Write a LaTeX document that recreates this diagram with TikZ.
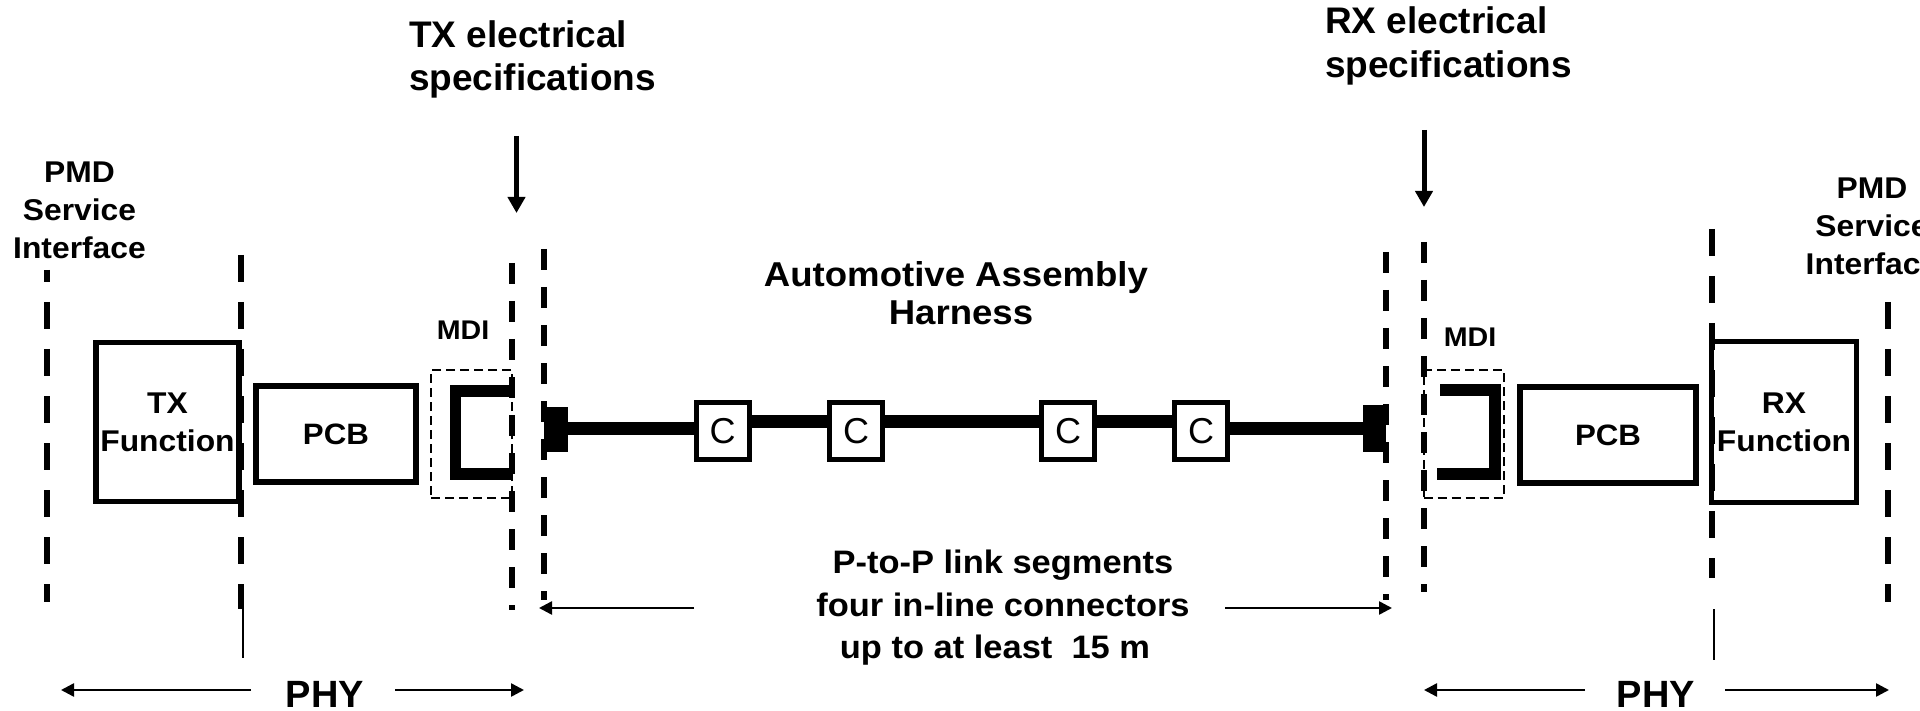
\documentclass[tikz,border=0pt]{standalone}
\usepackage{fontspec}
\setmainfont{Liberation Sans}
\newfontfamily\widesans[FakeStretch=1.06]{Liberation Sans}
\usetikzlibrary{arrows.meta}

\begin{document}
\begin{tikzpicture}[x=1pt,y=-1pt,
  guideA/.style={line width=6.5pt, dash pattern=on 27pt off 20pt},
  guideB/.style={line width=6pt, dash pattern=on 21pt off 17pt},
  thinline/.style={line width=2pt},
  block/.style={draw, line width=5.5pt, inner sep=0pt, align=center,
    font=\widesans\bfseries\fontsize{30pt}{38pt}\selectfont},
  cbox/.style={draw, fill=white, line width=5pt, inner sep=0pt,
    minimum width=53pt, minimum height=57pt, font=\fontsize{36pt}{40pt}\selectfont},
  mdibox/.style={draw, line width=2pt, dash pattern=on 9pt off 5pt, inner sep=0pt},
  term/.style={fill, inner sep=0pt},
  cable/.style={line width=13pt},
  bracket/.style={line width=11.5pt},
  spectext/.style={anchor=base west, inner sep=0pt,
    font=\bfseries\fontsize{37pt}{44pt}\selectfont},
  lab/.style={anchor=base, inner sep=0pt,
    font=\widesans\bfseries\fontsize{30pt}{38pt}\selectfont},
  mdilab/.style={anchor=base, inner sep=0pt,
    font=\widesans\bfseries\fontsize{27pt}{30pt}\selectfont},
  bottomtext/.style={anchor=base, inner sep=0pt,
    font=\widesans\bfseries\fontsize{32.5pt}{40pt}\selectfont},
  phytext/.style={anchor=base, inner sep=0pt,
    font=\bfseries\fontsize{38pt}{40pt}\selectfont},
  specarrow/.style={line width=5pt, -{Triangle[length=16pt,width=17pt]}},
  dimarrow/.style={line width=2.5pt, -{Triangle[length=13pt,width=13pt]}}
]
\useasboundingbox (0,0) rectangle (1920,711);
\fill[white] (0,0) rectangle (1920,711);
\clip (0,0) rectangle (1920,711);

% ---------- reference planes ----------
\draw[guideA, dash phase=15pt] (47,270) -- (47,602);
\draw[guideA] (241,255) -- (241,609);
\draw[thinline] (243,609) -- (243,658);
\draw[guideB] (512,263) -- (512,610);
\draw[guideB] (544,249) -- (544,600);
\draw[guideB] (1386,252) -- (1386,600);
\draw[guideB] (1424,242) -- (1424,592);
\draw[guideA] (1712,229) -- (1712,578);
\draw[thinline] (1714,609) -- (1714,660);
\draw[guideA] (1888,302) -- (1888,602);

% ---------- transmitter side ----------
\node[block, minimum width=143pt, minimum height=159pt] (txf) at (167.5,422) {TX\\Function};
\node[block, minimum width=160pt, minimum height=96pt] (pcbL) at (336,434) {\fontsize{29.5pt}{36pt}\selectfont PCB};
\node[mdibox, minimum width=81pt, minimum height=128pt] (mdiL) at (471.5,434) {};
\node[mdilab] (mdiLlab) at (463,340) {MDI};
\draw[bracket] (512.5,391) -- (455.5,391) -- (455.5,474) -- (512.5,474);

% ---------- receiver side ----------
\node[mdibox, minimum width=80pt, minimum height=128pt] (mdiR) at (1463.5,434) {};
\node[mdilab] (mdiRlab) at (1470,346) {MDI};
\draw[bracket] (1440,390) -- (1495,390) -- (1495,474) -- (1437,474);
\node[block, minimum width=176pt, minimum height=96pt] (pcbR) at (1608,435) {\fontsize{29.5pt}{36pt}\selectfont PCB};
\node[block, minimum width=145pt, minimum height=161pt] (rxf) at (1784,422) {RX\\Function};

% ---------- harness ----------
\node[term, minimum width=24pt, minimum height=45pt] (termL) at (556,429.5) {};
\node[term, minimum width=23pt, minimum height=47pt] (termR) at (1374.5,428.5) {};
\node[cbox] (c1) at (722.5,431) {C};
\node[cbox] (c2) at (856,431) {C};
\node[cbox] (c3) at (1068,431) {C};
\node[cbox] (c4) at (1201,431) {C};
\draw[cable] (termL.east |- 0,428) -- (c1.west |- 0,428);
\draw[cable] (c1.east |- 0,421.5) -- (c2.west |- 0,421.5);
\draw[cable] (c2.east |- 0,421.5) -- (c3.west |- 0,421.5);
\draw[cable] (c3.east |- 0,421.5) -- (c4.west |- 0,421.5);
\draw[cable] (c4.east |- 0,428) -- (termR.west |- 0,428);

\node[lab, font=\widesans\bfseries\fontsize{34.5pt}{40pt}\selectfont] (aah1) at (956,287) {Automotive Assembly};
\node[lab, font=\widesans\bfseries\fontsize{34.5pt}{40pt}\selectfont] (aah2) at (961,325) {Harness};

% ---------- specification points ----------
\node[spectext] (txs1) at (409,48) {TX electrical};
\node[spectext] (txs2) at (409,91) {specifications};
\coordinate (txa1) at (516.5,136);
\coordinate (txa2) at (516.5,213);
\draw[specarrow] (txa1) -- (txa2);

\node[spectext] (rxs1) at (1325,34) {RX electrical};
\node[spectext] (rxs2) at (1325,78) {specifications};
\coordinate (rxa1) at (1424,130);
\coordinate (rxa2) at (1424,207);
\draw[specarrow] (rxa1) -- (rxa2);

% ---------- service interfaces ----------
\node[lab] (pmdL1) at (79.5,183) {PMD};
\node[lab] (pmdL2) at (79.5,221) {Service};
\node[lab] (pmdL3) at (79.5,259) {Interface};
\node[lab] (pmdR1) at (1872,199) {PMD};
\node[lab] (pmdR2) at (1872,237) {Service};
\node[lab] (pmdR3) at (1872,275) {Interface};

% ---------- link segment span ----------
\node[bottomtext] (seg1) at (1003,573) {P-to-P link segments};
\node[bottomtext] (seg2) at (1003,616) {four in-line connectors};
\node[bottomtext] (seg3) at (995,658) {up to at least\ \ 15 m};
\coordinate (segL1) at (694,608);
\coordinate (segL2) at (539,608);
\coordinate (segR1) at (1225,608);
\coordinate (segR2) at (1392,608);
\draw[dimarrow] (segL1) -- (segL2);
\draw[dimarrow] (segR1) -- (segR2);

% ---------- PHY spans ----------
\node[phytext] (phyL) at (325,707) {PHY};
\coordinate (phyLa) at (251,690);
\coordinate (phyLb) at (61,690);
\coordinate (phyLc) at (395,690);
\coordinate (phyLd) at (524,690);
\draw[dimarrow] (phyLa) -- (phyLb);
\draw[dimarrow] (phyLc) -- (phyLd);

\node[phytext] (phyR) at (1656,707) {PHY};
\coordinate (phyRa) at (1585,690);
\coordinate (phyRb) at (1424,690);
\coordinate (phyRc) at (1725,690);
\coordinate (phyRd) at (1889,690);
\draw[dimarrow] (phyRa) -- (phyRb);
\draw[dimarrow] (phyRc) -- (phyRd);
\end{tikzpicture}
\end{document}
